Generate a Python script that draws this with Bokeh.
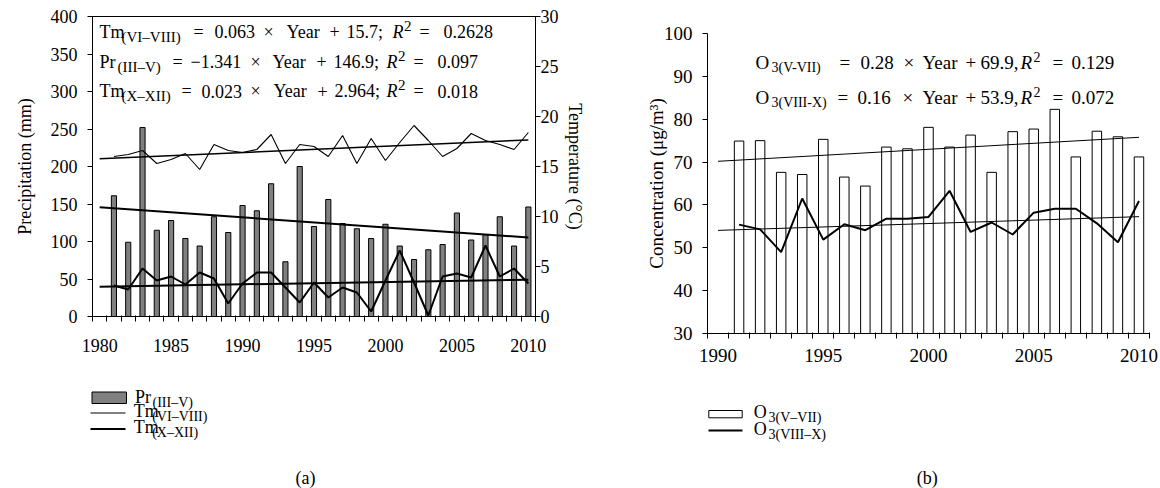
from bokeh.plotting import figure
from bokeh.models import Range1d, LinearAxis, FixedTicker, Spacer
from bokeh.layouts import column, row
from bokeh.embed import file_html
from bokeh.resources import INLINE
from bokeh.core.properties import value

FONT = "Liberation Serif"

# ---------------- data: panel (a) ----------------
years_a = list(range(1981, 2011))
pr_iii_v = [161, 99, 252, 115, 128, 104, 94, 133, 112, 148,
            141, 177, 73, 200, 120, 156, 124, 117, 104, 123,
            94, 76, 89, 96, 138, 102, 109, 133, 94, 146]
tm_vi_viii = [16.0, 16.2, 16.6, 15.3, 15.7, 16.3, 14.7, 17.2, 16.6, 16.4,
              16.7, 18.2, 15.3, 17.2, 17.0, 16.0, 18.1, 15.3, 17.8, 15.6,
              17.4, 19.1, 17.6, 16.0, 16.8, 18.3, 17.6, 17.2, 16.7, 18.4]
tm_x_xii = [3.1, 2.7, 4.8, 3.6, 4.0, 3.2, 4.4, 3.8, 1.3, 3.3,
            4.4, 4.4, 2.9, 1.4, 3.4, 1.9, 2.9, 2.4, 0.5, 3.6,
            6.6, 3.4, 0.1, 4.0, 4.3, 3.9, 7.1, 4.0, 4.8, 3.3]
trend_years_a = [1980, 2010]
trend_tm_vi_viii = (0.063, 15.7)
trend_pr_iii_v = (-1.341, 146.9)
trend_tm_x_xii = (0.023, 2.964)
ticks_a = [1980, 1985, 1990, 1995, 2000, 2005, 2010]

# ---------------- data: panel (b) ----------------
years_b = list(range(1991, 2011))
o3_v_vii = [74.9, 75.0, 67.6, 67.1, 75.3, 66.5, 64.4, 73.5, 73.1, 78.1,
            73.5, 76.3, 67.6, 77.1, 77.7, 82.3, 71.2, 77.2, 75.9, 71.2]
o3_viii_x = [55.4, 54.3, 49.0, 61.5, 51.9, 55.5, 54.1, 56.8, 56.8, 57.2,
             63.3, 53.7, 55.9, 53.1, 58.2, 59.1, 59.1, 55.7, 51.3, 60.9]
trend_years_b = [1990, 2010]
trend_o3_v_vii = (0.28, 69.9)
trend_o3_viii_x = (0.16, 53.9)
ticks_b = [1990, 1995, 2000, 2005, 2010]


def trend(coef, yrs, base):
    s, c = coef
    return [s * (y - base) + c for y in yrs]


def put(fig, x, y, s, size=18, style="normal", align="left", rng=True):
    # y is the wanted baseline (px); drawn with a "middle" anchor
    kw = dict(x_range_name="px", y_range_name="px") if rng else {}
    fig.text(x=[x], y=[y - 0.34 * size], text=[s], text_font=value(FONT),
             text_font_size=value(f"{size}px"), text_font_style=style,
             text_align=align, text_baseline="middle", text_color="black", **kw)


def style_axis(ax, size):
    ax.axis_line_color = "black"
    ax.major_tick_line_color = "black"
    ax.minor_tick_line_color = "black"
    ax.major_label_text_font = FONT
    ax.major_label_text_font_size = f"{size}px"
    ax.major_label_text_color = "black"
    ax.axis_label_text_font = FONT
    ax.axis_label_text_font_size = f"{size}px"
    ax.axis_label_text_font_style = "normal"
    ax.axis_label_text_color = "black"


def eq(fig, items, base, main, sub):
    for t, x, k in items:
        if k == "n":
            put(fig, x, base, t, main)
        elif k == "i":
            put(fig, x, base, t, main, "italic")
        elif k == "s":
            put(fig, x, base + 4, t, sub)
        elif k == "p":
            put(fig, x, base - 7, t, sub)


# ================= panel (a) =================  frame: x 92..535, y 16..316
pa = figure(title=None, width=597, height=358,
            min_border_left=92, min_border_right=62, min_border_top=16, min_border_bottom=42,
            x_range=Range1d(1979.5, 2010.5), y_range=Range1d(0, 400),
            output_backend="svg", toolbar_location=None)
pa.extra_y_ranges = {"temp": Range1d(0, 30), "px": Range1d(316, 16)}
pa.extra_x_ranges = {"px": Range1d(92, 535)}
pa.xgrid.visible = False
pa.ygrid.visible = False
pa.outline_line_color = "black"
pa.outline_line_alpha = 1

pa.xaxis.ticker = FixedTicker(ticks=ticks_a, minor_ticks=[1979.5 + i for i in range(32)])
pa.xaxis.major_tick_out = 0
pa.xaxis.major_tick_in = 0
pa.xaxis.minor_tick_out = 5
pa.xaxis.minor_tick_in = 1
pa.xaxis.major_label_standoff = 17
style_axis(pa.xaxis[0], 18)

pa.yaxis.ticker = FixedTicker(ticks=list(range(0, 401, 50)), minor_ticks=[])
pa.yaxis.major_tick_out = 5
pa.yaxis.major_tick_in = 0
pa.yaxis.major_label_standoff = 10
pa.yaxis.axis_label = "Precipitation (mm)"
pa.yaxis.axis_label_standoff = 13
style_axis(pa.yaxis[0], 18)

ra = LinearAxis(y_range_name="temp", axis_label="Temperature (°C)",
                ticker=FixedTicker(ticks=list(range(0, 31, 5)), minor_ticks=[]))
ra.major_tick_out = 5
ra.major_tick_in = 0
ra.major_label_standoff = 0
ra.axis_label_standoff = 3
style_axis(ra, 18)
pa.add_layout(ra, "right")

pa.vbar(x=years_a, top=pr_iii_v, bottom=0, width=0.36,
        fill_color="#808080", line_color="black", line_width=1)
pa.line(years_a, tm_vi_viii, y_range_name="temp", line_color="black", line_width=1.1)
pa.line(years_a, tm_x_xii, y_range_name="temp", line_color="black", line_width=2)
pa.line(trend_years_a, trend(trend_tm_vi_viii, trend_years_a, 1979), y_range_name="temp",
        line_color="black", line_width=1.5)
pa.line(trend_years_a, trend(trend_pr_iii_v, trend_years_a, 1979),
        line_color="black", line_width=2)
pa.line(trend_years_a, trend(trend_tm_x_xii, trend_years_a, 1979), y_range_name="temp",
        line_color="black", line_width=2)

eq(pa, [("Tm", 99, "n"), ("(VI–VIII)", 121, "s"), ("=", 193, "n"), ("0.063", 214, "n"),
        ("×", 263, "n"), ("Year", 286, "n"), ("+", 329, "n"), ("15.7;", 346, "n"),
        ("R", 392, "i"), ("2", 403.5, "p"), ("=", 419, "n"), ("0.2628", 443, "n")], 37.5, 18, 15)
eq(pa, [("Pr", 99, "n"), ("(III–V)", 117, "s"), ("=", 172, "n"), ("−1.341", 190, "n"),
        ("×", 250, "n"), ("Year", 272, "n"), ("+", 316, "n"), ("146.9;", 333, "n"),
        ("R", 386, "i"), ("2", 397.5, "p"), ("=", 413, "n"), ("0.097", 437, "n")], 67.5, 18, 15)
eq(pa, [("Tm", 99, "n"), ("(X–XII)", 121, "s"), ("=", 181, "n"), ("0.023", 201, "n"),
        ("×", 250, "n"), ("Year", 273, "n"), ("+", 317, "n"), ("2.964;", 334, "n"),
        ("R", 386, "i"), ("2", 397.5, "p"), ("=", 413, "n"), ("0.018", 437, "n")], 97, 18, 15)

# ================= panel (b) =================  frame: x 707..1149, y 33..333 (17px spacer above)
pb = figure(title=None, width=563, height=358,
            min_border_left=110, min_border_right=11, min_border_top=16, min_border_bottom=42,
            x_range=Range1d(1989.5, 2010.5), y_range=Range1d(30, 100),
            output_backend="svg", toolbar_location=None)
pb.extra_y_ranges = {"px": Range1d(333, 33)}
pb.extra_x_ranges = {"px": Range1d(707, 1149)}
pb.xgrid.visible = False
pb.ygrid.visible = False
pb.outline_line_color = None

pb.xaxis.ticker = FixedTicker(ticks=ticks_b, minor_ticks=[1989.5 + i for i in range(22)])
pb.xaxis.major_tick_out = 0
pb.xaxis.major_tick_in = 0
pb.xaxis.minor_tick_out = 5
pb.xaxis.minor_tick_in = 1
pb.xaxis.major_label_standoff = 10
style_axis(pb.xaxis[0], 19)

pb.yaxis.ticker = FixedTicker(ticks=list(range(30, 101, 10)), minor_ticks=[])
pb.yaxis.major_tick_out = 5
pb.yaxis.major_tick_in = 0
pb.yaxis.major_label_standoff = 10
pb.yaxis.axis_label = "Concentration (μg/m³)"
pb.yaxis.axis_label_standoff = -6
style_axis(pb.yaxis[0], 19)

pb.vbar(x=years_b, top=o3_v_vii, bottom=30, width=0.45,
        fill_color="white", line_color="black", line_width=1)
pb.line(years_b, o3_viii_x, line_color="black", line_width=2)
pb.line(trend_years_b, trend(trend_o3_v_vii, trend_years_b, 1989), line_color="black", line_width=1)
pb.line(trend_years_b, trend(trend_o3_viii_x, trend_years_b, 1989), line_color="black", line_width=1)

eq(pb, [("O", 755, "n"), ("3(V-VII)", 771, "s"), ("=", 839, "n"), ("0.28", 860, "n"),
        ("×", 903, "n"), ("Year", 922, "n"), ("+", 965, "n"), ("69.9,", 980, "n"),
        ("R", 1020, "i"), ("2", 1033, "p"), ("=", 1052, "n"), ("0.129", 1071, "n")], 68, 19, 14)
eq(pb, [("O", 755, "n"), ("3(VIII-X)", 771, "s"), ("=", 837, "n"), ("0.16", 857, "n"),
        ("×", 902, "n"), ("Year", 922, "n"), ("+", 965, "n"), ("53.9,", 980, "n"),
        ("R", 1020, "i"), ("2", 1033, "p"), ("=", 1052, "n"), ("0.072", 1071, "n")], 103, 19, 14)

# ================= legends & captions =================  y 375..488
pc = figure(title=None, width=1160, height=113, min_border=0,
            x_range=Range1d(0, 1160), y_range=Range1d(488, 375),
            x_axis_location=None, y_axis_location=None,
            output_backend="svg", toolbar_location=None)
pc.xgrid.visible = False
pc.ygrid.visible = False
pc.outline_line_color = None

pc.quad(left=[91.5], right=[126], top=[391.5], bottom=[403], fill_color="#808080", line_color="black", line_width=1)
put(pc, 134.5, 403, "Pr", 18, rng=False)
put(pc, 152, 407, "(III–V)", 14, rng=False)
pc.line([90, 125], [412.5, 412.5], line_color="black", line_width=1.1)
put(pc, 133.3, 416.5, "Tm", 18, rng=False)
put(pc, 151.7, 420.5, "(VI–VIII)", 14, rng=False)
pc.line([90, 125], [428.5, 428.5], line_color="black", line_width=2)
put(pc, 133.3, 432.5, "Tm", 18, rng=False)
put(pc, 151.7, 436.5, "(X–XII)", 14, rng=False)
put(pc, 305, 484, "(a)", 18, align="center", rng=False)

pc.quad(left=[708.3], right=[741.7], top=[410], bottom=[417.3], fill_color="white", line_color="black", line_width=1)
put(pc, 753.3, 417.5, "O", 18, rng=False)
put(pc, 768, 421.5, "3(V–VII)", 14, rng=False)
pc.line([708, 742], [430, 430], line_color="black", line_width=2)
put(pc, 753.3, 435, "O", 18, rng=False)
put(pc, 768, 439, "3(VIII–X)", 14, rng=False)
put(pc, 926.7, 484, "(b)", 18, align="center", rng=False)

layout = column(row(pa, column(Spacer(height=17, width=563), pb)), pc)
open("out.html", "w").write(file_html(layout, INLINE))
